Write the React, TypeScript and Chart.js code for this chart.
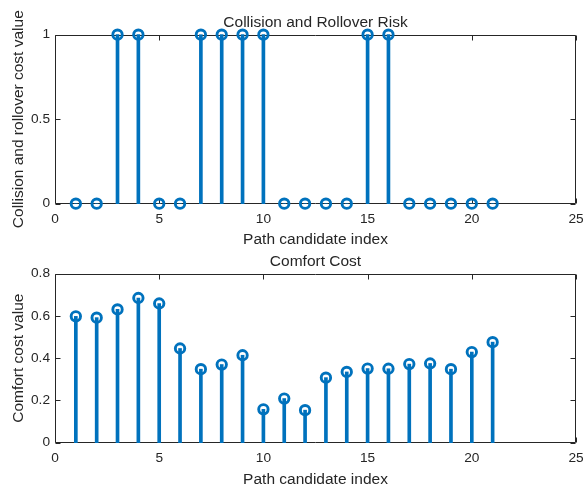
import React, { useEffect, useRef } from 'react';
import { Chart, registerables } from 'chart.js';

Chart.register(...registerables);

// ---- data ----
const candidateIndex = [1, 2, 3, 4, 5, 6, 7, 8, 9, 10, 11, 12, 13, 14, 15, 16, 17, 18, 19, 20, 21];
const collisionRisk = [0, 0, 1, 1, 0, 0, 1, 1, 1, 1, 0, 0, 0, 0, 1, 1, 0, 0, 0, 0, 0];
const comfortCost = [0.598, 0.592, 0.631, 0.685, 0.659, 0.446, 0.348, 0.370, 0.414, 0.158, 0.209,
  0.154, 0.308, 0.335, 0.351, 0.350, 0.372, 0.375, 0.348, 0.429, 0.476];
const xRange = [0, 25];
const xStep = 5;
const riskRange = [0, 1];
const riskStep = 0.5;
const comfortRange = [0, 0.8];
const comfortStep = 0.2;

const titleTop = 'Collision and Rollover Risk';
const titleBottom = 'Comfort Cost';
const xLabel = 'Path candidate index';
const yLabelTop = 'Collision and rollover cost value';
const yLabelBottom = 'Comfort cost value';

// ---- style ----
const BLUE = '#0072BD';
const AXIS = '#262626';
const FONT = "'Liberation Sans', Arial, Helvetica, sans-serif";
const TICK_SIZE = 13.7;
const LABEL_SIZE = 15.5;
const TICK_LEN = 5;

const fmt = (v: any) => String(Math.round(Number(v) * 1000) / 1000);

const boxPlugin = {
  id: 'matlabBox',
  beforeDatasetsDraw(chart: any) {
    const { ctx, chartArea: a, scales } = chart;
    const L = Math.round(a.left) + 0.5;
    const R = Math.round(a.right) - 0.5;
    const T = Math.round(a.top) + 0.5;
    const B = Math.round(a.bottom) - 0.5;
    ctx.save();
    ctx.strokeStyle = AXIS;
    ctx.lineWidth = 1;
    ctx.beginPath();
    ctx.rect(L, T, R - L, B - T);
    for (const t of scales.x.ticks) {
      const px = Math.round(scales.x.getPixelForValue(t.value)) + 0.5;
      ctx.moveTo(px, B);
      ctx.lineTo(px, B - TICK_LEN);
      ctx.moveTo(px, T);
      ctx.lineTo(px, T + TICK_LEN);
    }
    for (const t of scales.y.ticks) {
      const py = Math.round(scales.y.getPixelForValue(t.value)) + 0.5;
      ctx.moveTo(L, py);
      ctx.lineTo(L + TICK_LEN, py);
      ctx.moveTo(R, py);
      ctx.lineTo(R - TICK_LEN, py);
    }
    ctx.stroke();
    ctx.restore();
  },
};

type StemProps = {
  width: number;
  height: number;
  values: number[];
  yRange: number[];
  yStep: number;
  title: string;
  yLabel: string;
  titlePad: { top: number; bottom: number };
  xScaleHeight: number;
  xTitlePadBottom: number;
};

function StemChart(p: StemProps) {
  const ref = useRef<HTMLCanvasElement>(null);
  useEffect(() => {
    if (!ref.current) return;
    const pts = candidateIndex.map((x, i) => ({ x, y: p.values[i] }));
    const chart = new Chart(ref.current, {
      type: 'scatter',
      data: {
        datasets: [
          {
            type: 'scatter',
            data: pts,
            pointStyle: 'circle',
            pointRadius: 4.7,
            pointHoverRadius: 4.7,
            pointBorderWidth: 2.9,
            pointBorderColor: BLUE,
            pointBackgroundColor: 'rgba(0,0,0,0)',
            showLine: false,
            clip: false,
            order: 0,
          } as any,
          {
            type: 'bar',
            data: pts,
            backgroundColor: BLUE,
            borderWidth: 0,
            barThickness: 3,
            clip: false,
            order: 1,
          } as any,
        ],
      },
      options: {
        responsive: false,
        animation: false,
        events: [],
        layout: { padding: { left: 0, right: 9, top: 0, bottom: 0 } },
        plugins: {
          legend: { display: false },
          tooltip: { enabled: false },
          title: {
            display: true,
            fullSize: false,
            text: p.title,
            color: AXIS,
            font: { family: FONT, size: LABEL_SIZE, weight: 'normal' },
            padding: p.titlePad,
          },
        },
        scales: {
          x: {
            type: 'linear',
            min: xRange[0],
            max: xRange[1],
            offset: false,
            grid: { display: false, drawTicks: false },
            border: { display: false },
            ticks: {
              stepSize: xStep,
              color: AXIS,
              padding: 7,
              font: { family: FONT, size: TICK_SIZE },
              callback: fmt,
            },
            title: {
              display: true,
              text: xLabel,
              color: AXIS,
              font: { family: FONT, size: LABEL_SIZE },
              padding: { top: 0, bottom: p.xTitlePadBottom },
            },
            afterFit: (s: any) => {
              s.height = p.xScaleHeight;
              s.paddingLeft = 0;
              s.paddingRight = 0;
            },
          },
          y: {
            type: 'linear',
            min: p.yRange[0],
            max: p.yRange[1],
            grid: { display: false, drawTicks: false },
            border: { display: false },
            ticks: {
              stepSize: p.yStep,
              color: AXIS,
              padding: 5,
              font: { family: FONT, size: TICK_SIZE },
              callback: fmt,
            },
            title: {
              display: true,
              text: p.yLabel,
              color: AXIS,
              font: { family: FONT, size: LABEL_SIZE },
              padding: { top: 9.2, bottom: 0 },
            },
            afterFit: (s: any) => {
              s.width = 55;
              s.paddingTop = 0;
              s.paddingBottom = 0;
            },
          },
        },
      } as any,
      plugins: [boxPlugin],
    });
    return () => chart.destroy();
  }, []);
  return (
    <canvas ref={ref} width={p.width} height={p.height} style={{ display: 'block', width: p.width, height: p.height }} />
  );
}

export default function App() {
  return (
    <div style={{ position: 'absolute', left: 0, top: 0, width: 585, height: 493, background: '#fff' }}>
      <StemChart
        width={585}
        height={250}
        values={collisionRisk}
        yRange={riskRange}
        yStep={riskStep}
        title={titleTop}
        yLabel={yLabelTop}
        titlePad={{ top: 13.2, bottom: 2.9 }}
        xScaleHeight={46.3}
        xTitlePadBottom={0.7}
      />
      <StemChart
        width={585}
        height={243}
        values={comfortCost}
        yRange={comfortRange}
        yStep={comfortStep}
        title={titleBottom}
        yLabel={yLabelBottom}
        titlePad={{ top: 2.7, bottom: 2.4 }}
        xScaleHeight={50.3}
        xTitlePadBottom={3.7}
      />
    </div>
  );
}
